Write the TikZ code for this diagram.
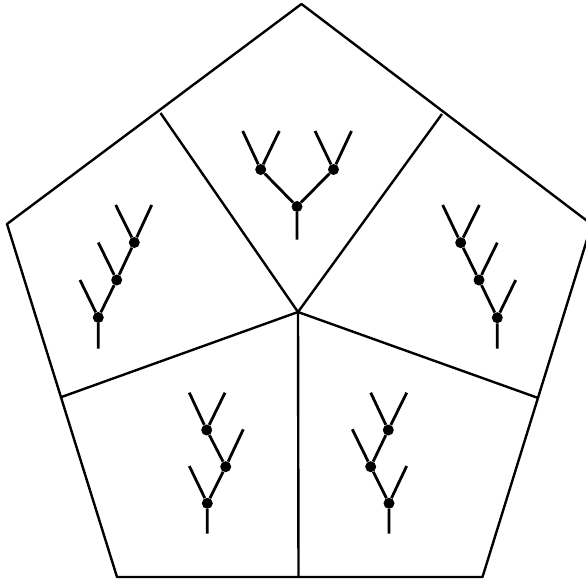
\documentclass[tikz,border=0pt]{standalone}
\usetikzlibrary{positioning}

\begin{document}
\begin{tikzpicture}[
    x=1pt, y=-1pt,
    line join=round,
    wall/.style={line width=2.4pt},
    branch/.style={line width=2.8pt},
    dot/.style={circle, fill=black, inner sep=0pt, minimum size=11pt},
]
\useasboundingbox (0,0) rectangle (586,581);

% === Pentagon outline ===
\coordinate (pT)  at (301.5, 4);
\coordinate (pR)  at (591.7, 224.4);
\coordinate (pBR) at (482.5, 577);
\coordinate (pBL) at (117, 577);
\coordinate (pL)  at (7, 224);
\draw[wall] (pT) -- (pR) -- (pBR) -- (pBL) -- (pL) -- cycle;

% === Spokes from the centre ===
\coordinate (c)   at (298, 312);
\coordinate (mTL) at (160.5, 113);
\coordinate (mTR) at (442, 114);
\coordinate (mR)  at (538.2, 398);
\coordinate (mB)  at (298.5, 577);
\coordinate (mL)  at (61.5, 397);
\foreach \m in {mTL, mTR, mR, mB, mL}
    \draw[wall] (c) -- (\m);

% === Top tree ===
\node[dot] (top0) at (297, 206.5) {};
\node[dot] (top1) at (260.7, 169.5) {};
\node[dot] (top2) at (333.5, 169.5) {};
\coordinate (top0s) at (297, 239.5);
\coordinate (top1a) at (242.7, 131);
\coordinate (top1b) at (279.3, 131);
\coordinate (top2a) at (315, 131);
\coordinate (top2b) at (351.5, 131);
\draw[branch] (top0s) -- (top0) (top0) -- (top1) (top0) -- (top2)
    (top1) -- (top1a) (top1) -- (top1b) (top2) -- (top2a) (top2) -- (top2b);

% === Left tree ===
\node[dot] (L0) at (98.3, 317.5) {};
\node[dot] (L1) at (116.7, 280) {};
\node[dot] (L2) at (134.3, 242.5) {};
\coordinate (L0s) at (98.3, 348.5);
\coordinate (L0a) at (80, 280);
\coordinate (L1a) at (98.3, 242.5);
\coordinate (L2a) at (115.7, 205);
\coordinate (L2b) at (151.7, 205);
\draw[branch] (L0s) -- (L0) (L0) -- (L0a) (L0) -- (L1)
    (L1) -- (L1a) (L1) -- (L2) (L2) -- (L2a) (L2) -- (L2b);

% === Right tree ===
\node[dot] (R0) at (497.3, 317.7) {};
\node[dot] (R1) at (479, 280) {};
\node[dot] (R2) at (460.7, 242.7) {};
\coordinate (R0s) at (497.3, 348.5);
\coordinate (R0a) at (515.7, 280);
\coordinate (R1a) at (497.3, 242.7);
\coordinate (R2a) at (442.7, 205);
\coordinate (R2b) at (479.3, 205);
\draw[branch] (R0s) -- (R0) (R0) -- (R0a) (R0) -- (R1)
    (R1) -- (R1a) (R1) -- (R2) (R2) -- (R2a) (R2) -- (R2b);

% === Bottom left tree ===
\node[dot] (BL0) at (207.3, 503.3) {};
\node[dot] (BL1) at (225.7, 466.7) {};
\node[dot] (BL2) at (206.7, 430) {};
\coordinate (BL0s) at (207.3, 533.5);
\coordinate (BL0a) at (189.3, 466);
\coordinate (BL1a) at (243.3, 429.3);
\coordinate (BL2a) at (189.3, 392.7);
\coordinate (BL2b) at (225, 392.7);
\draw[branch] (BL0s) -- (BL0) (BL0) -- (BL0a) (BL0) -- (BL1)
    (BL1) -- (BL1a) (BL1) -- (BL2) (BL2) -- (BL2a) (BL2) -- (BL2b);

% === Bottom right tree ===
\node[dot] (BR0) at (389, 503.3) {};
\node[dot] (BR1) at (370.7, 466.7) {};
\node[dot] (BR2) at (388.3, 430) {};
\coordinate (BR0s) at (389, 533.5);
\coordinate (BR0a) at (406.7, 466);
\coordinate (BR1a) at (352.3, 429.3);
\coordinate (BR2a) at (370.7, 392.7);
\coordinate (BR2b) at (406.7, 392.7);
\draw[branch] (BR0s) -- (BR0) (BR0) -- (BR0a) (BR0) -- (BR1)
    (BR1) -- (BR1a) (BR1) -- (BR2) (BR2) -- (BR2a) (BR2) -- (BR2b);

\end{tikzpicture}
\end{document}
